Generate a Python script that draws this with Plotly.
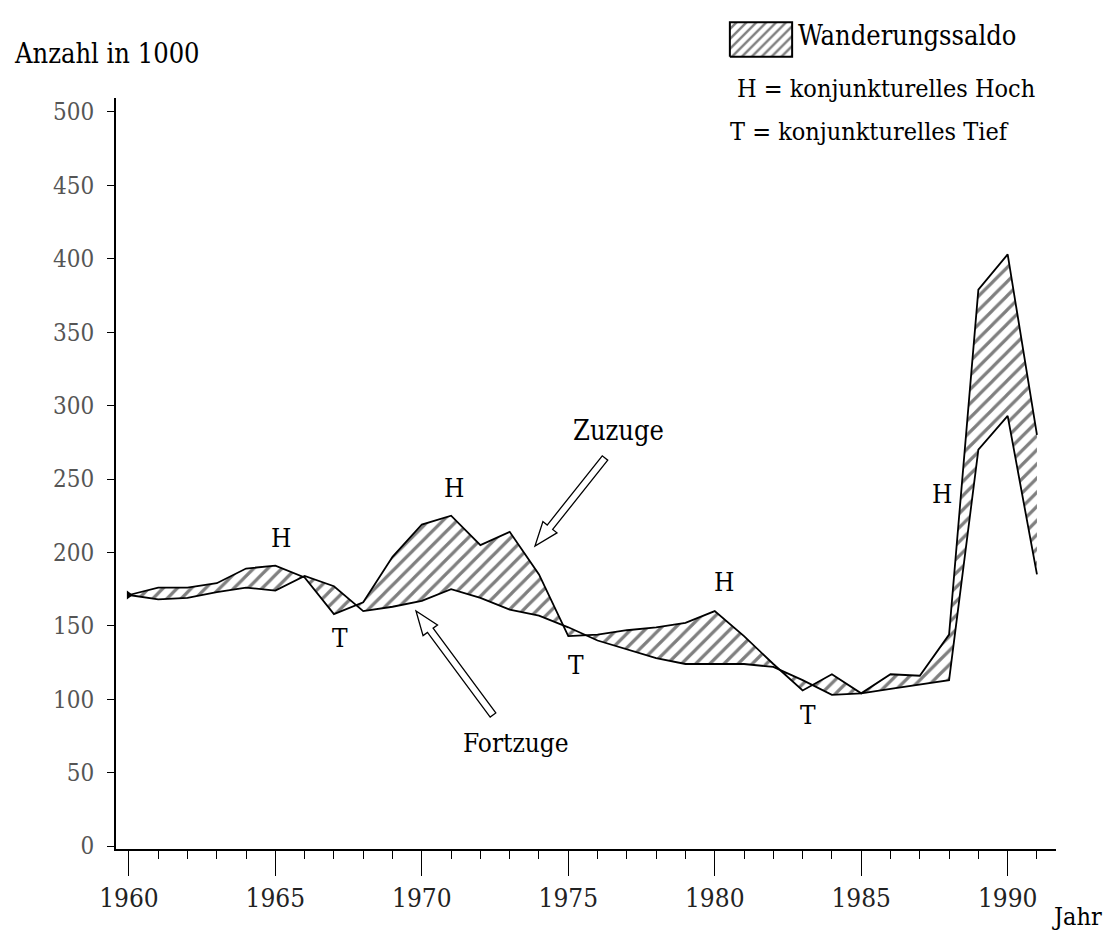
import math
import plotly.graph_objects as go

# ---------------- data (thousands) ----------------
years = list(range(1960, 1992))
zuzuge = [171, 176, 176, 179, 189, 191, 183, 158, 166, 197, 219, 225, 205, 214, 185,
          143, 144, 147, 149, 152, 160, 143, 124, 106, 117, 104, 117, 116, 144, 379,
          403, 280]
fortzuge = [171, 168, 169, 173, 176, 174, 184, 177, 160, 163, 167, 175, 169, 161, 157,
            149, 140, 134, 128, 124, 124, 124, 122, 113, 103, 104, 107, 110, 113, 270,
            293, 185]

y_ticks = list(range(0, 501, 50))
x_ticks = list(range(1960, 1991, 5))

# business-cycle markers (label, year, value)
marker_labels = ["H", "T", "H", "T", "H", "T", "H"]
marker_years = [1965.2, 1967.2, 1971.1, 1975.25, 1980.3, 1983.2, 1987.75]
marker_values = [210, 142, 244, 123, 180, 89, 240]

FONT = "DejaVu Serif Condensed, Liberation Serif, serif"

# ---------------- layout geometry ----------------
W, H = 1118, 946
ML, MR, MT, MB = 108, 70, 10, 105
PW = W - ML - MR
PH = H - MT - MB
XR = [1959.56, 1991.65]
YR = [-2, 509.5]
Y_TOP_PX = 90  # top of main plot area in px
ydom_top = (H - MB - Y_TOP_PX) / PH


def px_to_data(px, py):
    x = XR[0] + (px - ML) / PW * (XR[1] - XR[0])
    y = YR[0] + (H - MB - py) / (H - MB - Y_TOP_PX) * (YR[1] - YR[0])
    return x, y


def data_to_px(x, y):
    px = ML + (x - XR[0]) / (XR[1] - XR[0]) * PW
    py = (H - MB) - (y - YR[0]) / (YR[1] - YR[0]) * (H - MB - Y_TOP_PX)
    return px, py


def hollow_arrow(tail, tip, sw=7, hw=18, hl=24):
    tx, ty = data_to_px(*tail)
    hx, hy = data_to_px(*tip)
    dx, dy = hx - tx, hy - ty
    L = math.hypot(dx, dy)
    ux, uy = dx / L, dy / L
    nx, ny = -uy, ux
    bx, by = hx - ux * hl, hy - uy * hl
    pts = [
        (tx + nx * sw / 2, ty + ny * sw / 2),
        (bx + nx * sw / 2, by + ny * sw / 2),
        (bx + nx * hw / 2, by + ny * hw / 2),
        (hx, hy),
        (bx - nx * hw / 2, by - ny * hw / 2),
        (bx - nx * sw / 2, by - ny * sw / 2),
        (tx - nx * sw / 2, ty - ny * sw / 2),
    ]
    d = [px_to_data(*p) for p in pts]
    path = "M " + " L ".join(f"{a:.4f},{b:.4f}" for a, b in d) + " Z"
    return dict(type="path", path=path, xref="x", yref="y",
                line=dict(color="black", width=1.3), fillcolor="white", layer="above")


def px_paper(px, py):
    return (px - ML) / PW, (H - MB - py) / PH


fig = go.Figure()

fig.add_trace(go.Scatter(
    x=years, y=fortzuge, mode="lines", name="Fortzuge",
    line=dict(color="black", width=1.8), showlegend=False,
))
fig.add_trace(go.Scatter(
    x=years, y=zuzuge, mode="lines", name="Zuzuge",
    line=dict(color="black", width=1.8), showlegend=False,
    fill="tonexty", fillcolor="white",
    fillpattern=dict(shape="/", size=10, solidity=0.32, fgcolor="black", bgcolor="white"),
))
# start point blob
fig.add_trace(go.Scatter(
    x=[years[0]], y=[zuzuge[0]], mode="markers", showlegend=False,
    marker=dict(symbol="triangle-right", size=8, color="black"),
))

# legend swatch on its own small axes
sw_x0, sw_y0 = px_paper(720, 50)
sw_x1, sw_y1 = px_paper(786, 13)
fig.add_trace(go.Scatter(
    x=[0, 1, 1, 0, 0], y=[0, 0, 1, 1, 0], mode="lines", xaxis="x2", yaxis="y2",
    line=dict(color="black", width=2), fill="toself", fillcolor="white",
    fillpattern=dict(shape="/", size=7, solidity=0.35, fgcolor="black", bgcolor="white"),
    showlegend=False, hoverinfo="skip",
))

annotations = []
for lab, xv, yv in zip(marker_labels, marker_years, marker_values):
    annotations.append(dict(x=xv, y=yv, xref="x", yref="y", text=lab, showarrow=False,
                            font=dict(family=FONT, size=26, color="black")))

annotations += [
    dict(x=1976.7, y=283, xref="x", yref="y", text="Zuzuge", showarrow=False,
         font=dict(family=FONT, size=27, color="black")),
    dict(x=1973.2, y=70, xref="x", yref="y", text="Fortzuge", showarrow=False,
         font=dict(family=FONT, size=26, color="black")),
]

ax, ay = px_paper(4, 46)
annotations.append(dict(x=ax, y=ay, xref="paper", yref="paper", xanchor="left", yanchor="middle",
                        text="Anzahl in 1000", showarrow=False,
                        font=dict(family=FONT, size=27, color="black")))
jx, jy = px_paper(1042, 908)
annotations.append(dict(x=jx, y=jy, xref="paper", yref="paper", xanchor="left", yanchor="middle",
                        text="Jahr", showarrow=False,
                        font=dict(family=FONT, size=25, color="black")))
lx, ly = px_paper(788, 28)
annotations.append(dict(x=lx, y=ly, xref="paper", yref="paper", xanchor="left", yanchor="middle",
                        text="Wanderungssaldo", showarrow=False,
                        font=dict(family=FONT, size=27, color="black")))
hx_, hy_ = px_paper(727, 80)
annotations.append(dict(x=hx_, y=hy_, xref="paper", yref="paper", xanchor="left", yanchor="middle",
                        text="H = konjunkturelles Hoch", showarrow=False,
                        font=dict(family=FONT, size=25, color="black")))
tx_, ty_ = px_paper(720, 124)
annotations.append(dict(x=tx_, y=ty_, xref="paper", yref="paper", xanchor="left", yanchor="middle",
                        text="T = konjunkturelles Tief", showarrow=False,
                        font=dict(family=FONT, size=25, color="black")))

shapes = [
    hollow_arrow(px_to_data(597, 450), px_to_data(527, 538)),
    hollow_arrow(px_to_data(485, 707), px_to_data(408, 603)),
]

fig.update_layout(
    width=W, height=H,
    margin=dict(l=ML, r=MR, t=MT, b=MB),
    paper_bgcolor="white", plot_bgcolor="white",
    showlegend=False,
    xaxis=dict(range=XR, tickvals=x_ticks, ticktext=[str(v) for v in x_ticks],
               ticks="outside", ticklen=25, tickwidth=1.3, tickcolor="black",
               showline=True, linecolor="black", linewidth=1.8,
               showgrid=False, zeroline=False,
               minor=dict(dtick=1, tick0=1960, ticks="outside", ticklen=8,
                          tickwidth=1.2, tickcolor="black", showgrid=False),
               tickfont=dict(family=FONT, size=26, color="#222"),
               domain=[0, 1]),
    yaxis=dict(range=YR, tickvals=y_ticks, ticks="outside", ticklen=7, tickwidth=1.2,
               tickcolor="black", showline=True, linecolor="black", linewidth=1.8,
               showgrid=False, zeroline=False, ticklabelstandoff=8,
               tickfont=dict(family=FONT, size=24, color="#555"),
               domain=[0, ydom_top]),
    xaxis2=dict(domain=[sw_x0, sw_x1], range=[-0.03, 1.03], visible=False, anchor="y2"),
    yaxis2=dict(domain=[sw_y0, sw_y1], range=[-0.04, 1.04], visible=False, anchor="x2"),
    annotations=annotations,
    shapes=shapes,
)

fig.write_html("out.html")
